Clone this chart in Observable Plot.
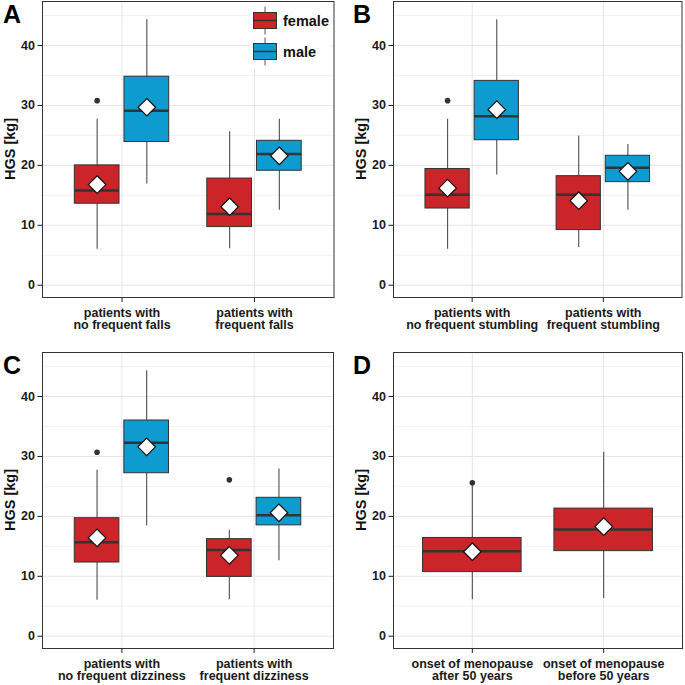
<!DOCTYPE html>
<html>
<head>
<meta charset="utf-8">
<script src="https://cdn.jsdelivr.net/npm/d3@7"></script>
<script src="https://cdn.jsdelivr.net/npm/@observablehq/plot@0.6"></script>
<style>
  html, body { margin: 0; padding: 0; background: #fff; }
  #wrap { position: relative; width: 685px; height: 685px; overflow: hidden; font-family: "Liberation Sans", Arial, sans-serif; }
  .panel { position: absolute; }
</style>
</head>
<body>
<div id="wrap"></div>
<script>
// ---------- data ----------
const sexes = ["female", "male"];
const sexColors = ["#CC2529", "#0D9BD0"];
const yTicks = [0, 10, 20, 30, 40];
const yMinorTicks = [5, 15, 25, 35, 45];
const yLabel = "HGS [kg]";

// Panel A
const catsA = ["patients with\nno frequent falls", "patients with\nfrequent falls"];
const groupCatA = [1, 1, 2, 2];
const groupSexA = ["female", "male", "female", "male"];
const lowA    = [6.0, 16.9, 6.1, 12.5];
const q1A     = [13.6, 23.9, 9.7, 19.1];
const medA    = [15.8, 29.1, 11.9, 21.9];
const q3A     = [20.0, 34.8, 17.8, 24.1];
const highA   = [27.7, 44.3, 25.6, 27.7];
const meanA   = [16.8, 29.7, 13.1, 21.6];
const outCatA = [1];
const outSexA = ["female"];
const outValA = [30.8];

// Panel B
const catsB = ["patients with\nno frequent stumbling", "patients with\nfrequent stumbling"];
const groupCatB = [1, 1, 2, 2];
const groupSexB = ["female", "male", "female", "male"];
const lowB    = [6.0, 18.4, 6.3, 12.5];
const q1B     = [12.8, 24.2, 9.2, 17.2];
const medB    = [15.1, 28.2, 15.1, 19.6];
const q3B     = [19.4, 34.1, 18.2, 21.6];
const highB   = [27.7, 44.3, 24.9, 23.5];
const meanB   = [16.2, 29.3, 14.1, 19.0];
const outCatB = [1];
const outSexB = ["female"];
const outValB = [30.8];

// Panel C
const catsC = ["patients with\nno frequent dizziness", "patients with\nfrequent dizziness"];
const groupCatC = [1, 1, 2, 2];
const groupSexC = ["female", "male", "female", "male"];
const lowC    = [6.0, 18.4, 6.1, 12.6];
const q1C     = [12.3, 27.2, 9.9, 18.5];
const medC    = [15.7, 32.3, 14.4, 20.2];
const q3C     = [19.7, 36.0, 16.2, 23.1];
const highC   = [27.7, 44.3, 17.7, 27.9];
const meanC   = [16.4, 31.6, 13.5, 20.6];
const outCatC = [1, 2];
const outSexC = ["female", "female"];
const outValC = [30.7, 26.1];

// Panel D (female only)
const catsD = ["onset of menopause\nafter 50 years", "onset of menopause\nbefore 50 years"];
const groupCatD = [1, 2];
const groupSexD = ["female", "female"];
const lowD    = [6.1, 6.3];
const q1D     = [10.7, 14.2];
const medD    = [14.2, 17.8];
const q3D     = [16.4, 21.3];
const highD   = [25.3, 30.7];
const meanD   = [14.1, 18.3];
const outCatD = [1];
const outSexD = ["female"];
const outValD = [25.6];

// ---------- drawing ----------
function buildPanel(cfg) {
  const dodge = cfg.dodged ? 0.1875 : 0;
  const half = cfg.dodged ? 0.16875 : 0.375;
  const off = s => cfg.dodged ? (s === "female" ? -dodge : dodge) : 0;
  const rows = cfg.cat.map((c, i) => {
    const xc = c + off(cfg.sex[i]);
    return { sex: cfg.sex[i], xc, xl: xc - half, xr: xc + half,
      low: cfg.low[i], q1: cfg.q1[i], med: cfg.med[i], q3: cfg.q3[i], high: cfg.high[i], mean: cfg.mean[i] };
  });
  const outs = cfg.outCat.map((c, i) => ({ x: c + off(cfg.outSex[i]), y: cfg.outVal[i] }));

  const svg = Plot.plot({
    width: cfg.width, height: 340,
    marginLeft: 42, marginRight: cfg.marginRight, marginTop: 1, marginBottom: 43,
    style: { fontFamily: "'Liberation Sans', Arial, sans-serif", fontSize: "12.5px", fontWeight: "bold", color: "#1a1a1a", background: "transparent", overflow: "visible" },
    x: { domain: [0.4, 2.6], ticks: [1, 2], tickFormat: i => cfg.cats[i - 1], tickSize: 5, tickPadding: 5.5, label: null },
    y: { domain: [-2.05, 47.35], ticks: yTicks, tickSize: 4.5, tickPadding: 3, label: null },
    color: { domain: sexes, range: sexColors },
    marks: [
      Plot.ruleY(yMinorTicks, { stroke: "#F2F2F2" }),
      Plot.ruleY(yTicks, { stroke: "#E6E6E6" }),
      Plot.ruleX([1, 2], { stroke: "#E6E6E6" }),
      Plot.ruleX(rows, { x: "xc", y1: "low", y2: "high", stroke: "#4d4d4d", strokeWidth: 1.1 }),
      Plot.rect(rows, { x1: "xl", x2: "xr", y1: "q1", y2: "q3", fill: "sex", stroke: "#333", strokeWidth: 1 }),
      Plot.ruleY(rows, { y: "med", x1: "xl", x2: "xr", stroke: "#333", strokeWidth: 2.5 }),
      Plot.dot(outs, { x: "x", y: "y", r: 2.8, fill: "#333", stroke: null }),
      Plot.dot(rows, { x: "xc", y: "mean", symbol: "diamond2", r: 7.9, fill: "white", stroke: "#111", strokeWidth: 1.2 }),
      Plot.frame({ stroke: "#333" })
    ]
  });

  const s = d3.select(svg);
  // y axis title
  s.append("text")
    .attr("transform", `translate(14.5, ${(1 + 297) / 2}) rotate(-90)`)
    .attr("text-anchor", "middle")
    .attr("font-size", "14.5px").attr("font-weight", "bold").attr("fill", "#111")
    .text(yLabel);
  // panel letter
  s.append("text")
    .attr("x", cfg.letterX).attr("y", 23)
    .attr("text-anchor", "start")
    .attr("font-size", "25px").attr("font-weight", "bold").attr("fill", "#000")
    .text(cfg.letter);

  if (cfg.legend) {
    const lg = s.append("g");
    lg.append("rect").attr("x", 249).attr("y", 3).attr("width", 82).attr("height", 66).attr("fill", "white");
    sexes.forEach((name, i) => {
      const y0 = 12.5 + i * 31;
      const g = lg.append("g");
      g.append("line").attr("x1", 265).attr("x2", 265).attr("y1", y0 - 6).attr("y2", y0 + 22).attr("stroke", "#555");
      g.append("rect").attr("x", 253.5).attr("y", y0).attr("width", 23).attr("height", 16)
        .attr("fill", sexColors[i]).attr("stroke", "#333");
      g.append("line").attr("x1", 253.5).attr("x2", 276.5).attr("y1", y0 + 8).attr("y2", y0 + 8).attr("stroke", "#333").attr("stroke-width", 1.5);
      g.append("text").attr("x", 283).attr("y", y0 + 13.5)
        .attr("text-anchor", "start")
        .attr("font-size", "14.5px").attr("font-weight", "bold").attr("fill", "#111").text(name);
    });
  }
  return svg;
}

const wrap = document.getElementById("wrap");
const panels = [
  { letter: "A", left: 0,   top: 0,   width: 335, marginRight: 1.5, letterX: 3, cats: catsA, cat: groupCatA, sex: groupSexA, low: lowA, q1: q1A, med: medA, q3: q3A, high: highA, mean: meanA, outCat: outCatA, outSex: outSexA, outVal: outValA, dodged: true, legend: true },
  { letter: "B", left: 351, top: 0,   width: 334, marginRight: 3.5, letterX: 2, cats: catsB, cat: groupCatB, sex: groupSexB, low: lowB, q1: q1B, med: medB, q3: q3B, high: highB, mean: meanB, outCat: outCatB, outSex: outSexB, outVal: outValB, dodged: true },
  { letter: "C", left: 0,   top: 351, width: 335, marginRight: 2, letterX: 3, cats: catsC, cat: groupCatC, sex: groupSexC, low: lowC, q1: q1C, med: medC, q3: q3C, high: highC, mean: meanC, outCat: outCatC, outSex: outSexC, outVal: outValC, dodged: true },
  { letter: "D", left: 351, top: 351, width: 334, marginRight: 3, letterX: 2, cats: catsD, cat: groupCatD, sex: groupSexD, low: lowD, q1: q1D, med: medD, q3: q3D, high: highD, mean: meanD, outCat: outCatD, outSex: outSexD, outVal: outValD, dodged: false }
];
panels.forEach(p => {
  const div = document.createElement("div");
  div.className = "panel";
  div.style.left = p.left + "px";
  div.style.top = p.top + "px";
  div.appendChild(buildPanel(p));
  wrap.appendChild(div);
});
</script>
</body>
</html>
